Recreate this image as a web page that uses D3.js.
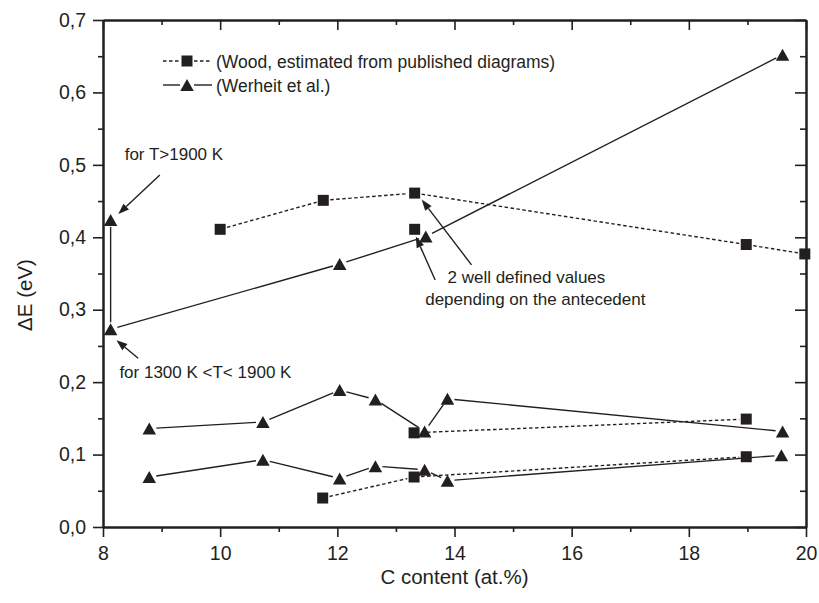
<!DOCTYPE html>
<html><head><meta charset="utf-8">
<script src="https://cdn.jsdelivr.net/npm/d3@7/dist/d3.min.js"></script>
<style>body{margin:0;background:#fff}svg{display:block}</style>
</head><body>
<svg id="c" width="819" height="603"></svg>
<script>
// ---- data ----
const xTicks = [8, 10, 12, 14, 16, 18, 20];
const xMinor = [9, 11, 13, 15, 17, 19];
const yTicks = [0, 0.1, 0.2, 0.3, 0.4, 0.5, 0.6, 0.7];
const yMinor = [0.05, 0.15, 0.25, 0.35, 0.45, 0.55, 0.65];
const yTickLabels = ["0,0", "0,1", "0,2", "0,3", "0,4", "0,5", "0,6", "0,7"];

// Wood (squares, dashed)
const woodUpper = [[10.0, 0.411], [11.76, 0.451], [13.32, 0.461], [18.98, 0.390], [19.98, 0.377]];
const woodSingle = [[13.32, 0.411]];
const woodMiddle = [[13.31, 0.130], [18.98, 0.149]];
const woodLower = [[11.75, 0.040], [13.31, 0.069], [18.98, 0.097]];

// Werheit et al. (triangles, solid)
const werUpper = [[8.13, 0.424], [8.13, 0.273], [12.04, 0.363], [13.51, 0.401], [19.6, 0.652]];
const werMiddle = [[8.79, 0.136], [10.73, 0.145], [12.04, 0.189], [12.65, 0.176], [13.49, 0.132], [13.88, 0.177], [19.6, 0.132]];
const werLower = [[8.79, 0.069], [10.73, 0.093], [12.04, 0.067], [12.65, 0.084], [13.49, 0.079], [13.88, 0.064], [19.58, 0.099]];

const legendLabels = ["(Wood, estimated from published diagrams)", "(Werheit et al.)"];
const xTitle = "C content (at.%)";
const yTitle = "\u0394E (eV)";

// annotations: text lines and arrows (tail -> tip) in data coords
const notes = [
  {lines: ["for T>1900 K"], x: 8.37, y: 0.507},
  {lines: ["for 1300 K <T< 1900 K"], x: 8.28, y: 0.206},
  {lines: ["2 well defined values", "depending on the antecedent"], x: [13.88, 13.5], y: [0.337, 0.307]}
];
const arrows = [
  [[8.97, 0.486], [8.26, 0.432]],
  [[8.6, 0.233], [8.23, 0.258]],
  [[14.29, 0.362], [13.44, 0.452]],
  [[13.67, 0.341], [13.34, 0.401]]
];

// ---- drawing ----
const ink = "#231f20";
const font = "'Liberation Sans', Arial, Helvetica, sans-serif";
const svg = d3.select("#c");
const L = 103, R = 806, T = 20, B = 527;
const x = d3.scaleLinear().domain([8, 20]).range([L, R]);
const y = d3.scaleLinear().domain([0, 0.7]).range([B, T]);

svg.append("rect").attr("width", 819).attr("height", 603).attr("fill", "#fff");

function styleAxis(g) {
  g.selectAll("path").attr("stroke", ink).attr("stroke-width", 2);
  g.selectAll("line").attr("stroke", ink).attr("stroke-width", 1.6);
  g.selectAll("text").attr("fill", ink).style("font-family", font).style("font-size", "19.5px");
}
// bottom
svg.append("g").attr("transform", `translate(0,${B})`)
  .call(d3.axisBottom(x).tickValues(xTicks).tickSize(10).tickSizeOuter(0).tickPadding(9).tickFormat(d3.format("d")))
  .call(styleAxis);
svg.append("g").attr("transform", `translate(0,${B})`)
  .call(d3.axisBottom(x).tickValues(xMinor).tickSize(5).tickSizeOuter(0).tickFormat(""))
  .call(styleAxis);
// top
svg.append("g").attr("transform", `translate(0,${T})`)
  .call(d3.axisTop(x).tickValues(xTicks).tickSize(-10).tickSizeOuter(0).tickFormat(""))
  .call(styleAxis);
svg.append("g").attr("transform", `translate(0,${T})`)
  .call(d3.axisTop(x).tickValues(xMinor).tickSize(-5).tickSizeOuter(0).tickFormat(""))
  .call(styleAxis);
// left
svg.append("g").attr("transform", `translate(${L},0)`)
  .call(d3.axisLeft(y).tickValues(yTicks).tickSize(10).tickSizeOuter(0).tickPadding(7)
    .tickFormat((d, i) => yTickLabels[i]))
  .call(styleAxis);
svg.append("g").attr("transform", `translate(${L},0)`)
  .call(d3.axisLeft(y).tickValues(yMinor).tickSize(5).tickSizeOuter(0).tickFormat(""))
  .call(styleAxis);
// right
svg.append("g").attr("transform", `translate(${R},0)`)
  .call(d3.axisRight(y).tickValues(yTicks).tickSize(-11).tickSizeOuter(0).tickFormat(""))
  .call(styleAxis);
svg.append("g").attr("transform", `translate(${R},0)`)
  .call(d3.axisRight(y).tickValues(yMinor).tickSize(-6).tickSizeOuter(0).tickFormat(""))
  .call(styleAxis);

// axis titles
svg.append("text").attr("x", (L + R) / 2).attr("y", 584).attr("text-anchor", "middle")
  .attr("fill", ink).style("font-family", font).style("font-size", "20.5px").text(xTitle);
svg.append("text").attr("transform", `translate(32,295) rotate(-90)`).attr("text-anchor", "middle")
  .attr("fill", ink).style("font-family", font).style("font-size", "20.5px").text(yTitle);

// series lines with gaps around markers
const GAP = 7;
function drawSeries(data, dashed) {
  const g = svg.append("g");
  for (let i = 0; i < data.length - 1; i++) {
    const x1 = x(data[i][0]), y1 = y(data[i][1]), x2 = x(data[i + 1][0]), y2 = y(data[i + 1][1]);
    const len = Math.hypot(x2 - x1, y2 - y1);
    if (len <= 2 * GAP) continue;
    const ux = (x2 - x1) / len, uy = (y2 - y1) / len;
    g.append("line")
      .attr("x1", x1 + ux * GAP).attr("y1", y1 + uy * GAP)
      .attr("x2", x2 - ux * GAP).attr("y2", y2 - uy * GAP)
      .attr("stroke", ink).attr("stroke-width", 1.4)
      .attr("stroke-dasharray", dashed ? "3.5,2.5" : null);
  }
}
const sq = d3.symbol().type(d3.symbolSquare).size(121);
function triPath(cx, cy) {
  const w = 13.5, h = 12;
  return `M${cx},${cy - h / 2}L${cx + w / 2},${cy + h / 2}L${cx - w / 2},${cy + h / 2}Z`;
}
function drawSquares(data) {
  svg.append("g").selectAll("path").data(data).join("path")
    .attr("transform", d => `translate(${x(d[0])},${y(d[1])})`)
    .attr("d", sq).attr("fill", ink);
}
function drawTris(data) {
  svg.append("g").selectAll("path").data(data).join("path")
    .attr("d", d => triPath(x(d[0]), y(d[1]))).attr("fill", ink);
}

[woodUpper, woodMiddle, woodLower].forEach(s => drawSeries(s, true));
[werUpper, werMiddle, werLower].forEach(s => drawSeries(s, false));
[woodUpper, woodSingle, woodMiddle, woodLower].forEach(drawSquares);
[werUpper, werMiddle, werLower].forEach(drawTris);

// legend
const lg = svg.append("g");
[[61, true], [85, false]].forEach(([ly, dashed], i) => {
  lg.append("line").attr("x1", 163).attr("x2", 180).attr("y1", ly).attr("y2", ly)
    .attr("stroke", ink).attr("stroke-width", 1.4).attr("stroke-dasharray", dashed ? "3.5,2.5" : null);
  lg.append("line").attr("x1", 194).attr("x2", 212).attr("y1", ly).attr("y2", ly)
    .attr("stroke", ink).attr("stroke-width", 1.4).attr("stroke-dasharray", dashed ? "3.5,2.5" : null);
  if (dashed) lg.append("path").attr("transform", `translate(187,${ly})`).attr("d", sq).attr("fill", ink);
  else lg.append("path").attr("d", triPath(187, ly)).attr("fill", ink);
  lg.append("text").attr("x", 216).attr("y", ly + 6.5).attr("fill", ink)
    .style("font-family", font).style("font-size", "17.5px").text(legendLabels[i]);
});

// annotations
notes.forEach(n => {
  n.lines.forEach((t, j) => {
    const nx = Array.isArray(n.x) ? n.x[j] : n.x;
    const ny = Array.isArray(n.y) ? n.y[j] : n.y;
    svg.append("text").attr("x", x(nx)).attr("y", y(ny)).attr("fill", ink)
      .style("font-family", font).style("font-size", "17px").text(t);
  });
});
arrows.forEach(([a, b]) => {
  const x1 = x(a[0]), y1 = y(a[1]), x2 = x(b[0]), y2 = y(b[1]);
  const len = Math.hypot(x2 - x1, y2 - y1), ux = (x2 - x1) / len, uy = (y2 - y1) / len;
  const hl = 11, hw = 4;
  const bx = x2 - ux * hl, by = y2 - uy * hl;
  svg.append("line").attr("x1", x1).attr("y1", y1).attr("x2", bx).attr("y2", by)
    .attr("stroke", ink).attr("stroke-width", 1.4);
  svg.append("path").attr("d", `M${x2},${y2}L${bx - uy * hw},${by + ux * hw}L${bx + uy * hw},${by - ux * hw}Z`)
    .attr("fill", ink);
});
</script>
</body></html>
